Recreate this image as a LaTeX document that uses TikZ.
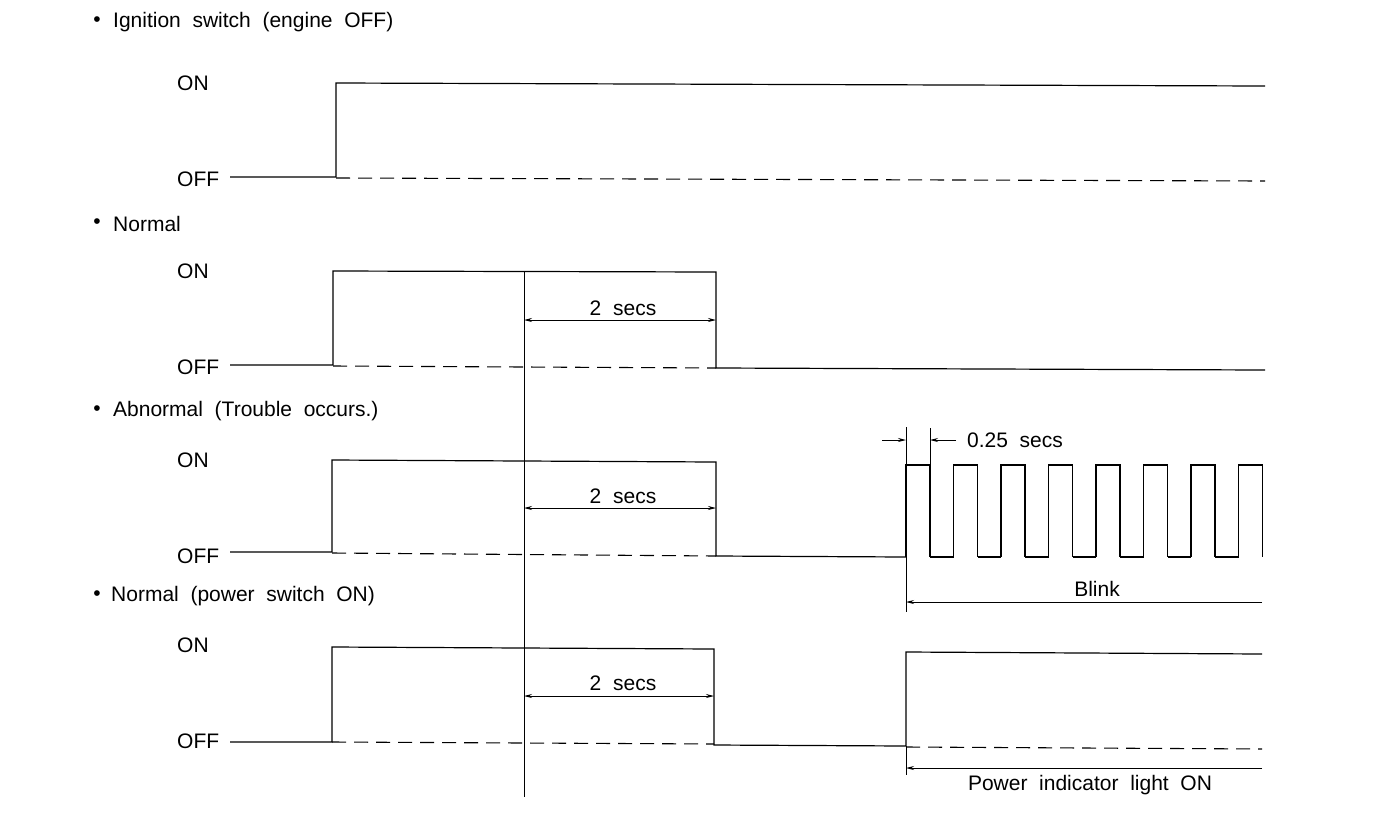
\documentclass[tikz,border=0pt]{standalone}
\usepackage{fontspec}
\setmainfont{Liberation Sans}[WordSpace=2.0]
\usetikzlibrary{arrows.meta}
\begin{document}
\begin{tikzpicture}[x=1pt,y=-1pt,
  sig/.style={line width=1.2pt, line join=miter},
  base/.style={line width=1.1pt, dash pattern=on 14pt off 8pt},
  extline/.style={line width=0.9pt},
  dimone/.style={line width=0.9pt,-{Stealth[length=8pt,width=4pt]}},
  dimboth/.style={line width=0.9pt,{Stealth[length=8pt,width=4pt]}-{Stealth[length=8pt,width=4pt]}},
  lbl/.style={font=\fontsize{21}{23}\selectfont, anchor=west, inner sep=0pt},
  txt/.style={font=\fontsize{21}{23}\selectfont, inner sep=0pt}]
\useasboundingbox (0,0) rectangle (1392,812);

% titles
\node[txt] (b1) at (97,22) {•};
\node[lbl] (t1) at (113,22) {Ignition switch (engine OFF)};
\node[txt] (b2) at (97,224) {•};
\node[lbl] (t2) at (113,224) {Normal};
\node[txt] (b3) at (97,411) {•};
\node[lbl] (t3) at (113,411) {Abnormal (Trouble occurs.)};
\node[txt] (b4) at (97,596) {•};
\node[lbl] (t4) at (111,596) {Normal (power switch ON)};

% level labels
\node[lbl] (on1) at (177,83) {ON};
\node[lbl] (off1) at (177,179) {OFF};
\node[lbl] (on2) at (177,271) {ON};
\node[lbl] (off2) at (177,367) {OFF};
\node[lbl] (on3) at (177,460) {ON};
\node[lbl] (off3) at (177,556) {OFF};
\node[lbl] (on4) at (177,645) {ON};
\node[lbl] (off4) at (177,741) {OFF};

% panel 1
\draw[sig] (230,177) -- (336,177) -- (336,83) -- (1265,86);
\draw[base] (336,178) -- (1265,181);

% panel 2
\draw[sig] (230,365) -- (333,365) -- (333,271) -- (716,272) -- (716,368) -- (1265,370);
\draw[base] (333,366) -- (716,368);

% reference vertical line
\coordinate (r1) at (524,272);
\coordinate (r2) at (524,797);
\draw[extline] (r1) -- (r2);

\coordinate (d2a) at (524,320);
\coordinate (d2b) at (716,320);
\draw[dimboth] (d2a) -- (d2b);
\node[txt] (s2) at (623,308) {2 secs};

% panel 3
\draw[sig] (230,552) -- (332,552) -- (332,460) -- (716,462) -- (716,556) -- (906,557);
\draw[base] (332,553) -- (716,556);
\coordinate (d3a) at (524,508);
\coordinate (d3b) at (716,508);
\draw[dimboth] (d3a) -- (d3b);
\node[txt] (s3) at (623,496) {2 secs};

\foreach \k in {0,...,7}{
  \draw[sig] ({906+47.5*\k},557) -- ({906+47.5*\k},465) -- ({930+47.5*\k},465) -- ({930+47.5*\k},557);
}
\foreach \k in {0,...,6}{
  \draw[sig] ({930+47.5*\k},557) -- ({953.5+47.5*\k},557);
}
\coordinate (e1a) at (906,427);
\coordinate (e1b) at (906,612);
\coordinate (e2a) at (930,428);
\coordinate (e2b) at (930,465);
\draw[extline] (e1a) -- (e1b);
\draw[extline] (e2a) -- (e2b);
\coordinate (q1) at (882,440);
\coordinate (q2) at (906,440);
\coordinate (q3) at (956,440);
\coordinate (q4) at (930,440);
\draw[dimone] (q1) -- (q2);
\draw[dimone] (q3) -- (q4);
\node[lbl] (s025) at (967,440) {0.25 secs};

\coordinate (bl1) at (1262,602);
\coordinate (bl2) at (906,602);
\draw[dimone] (bl1) -- (bl2);
\node[txt] (blink) at (1097,589) {Blink};

% panel 4
\draw[sig] (230,742) -- (332,742) -- (332,647) -- (714,649) -- (714,745) -- (906,746) -- (906,652) -- (1262,654);
\draw[base] (332,742) -- (714,744);
\draw[base] (906,747) -- (1262,749);
\coordinate (d4a) at (524,696);
\coordinate (d4b) at (714,696);
\draw[dimboth] (d4a) -- (d4b);
\node[txt] (s4) at (623,683) {2 secs};

\coordinate (p0a) at (906,746);
\coordinate (p0b) at (906,775);
\draw[extline] (p0a) -- (p0b);
\coordinate (p1) at (1262,768);
\coordinate (p2) at (906,768);
\draw[dimone] (p1) -- (p2);
\node[txt] (pil) at (1090,785) {Power indicator light ON};
\end{tikzpicture}
\end{document}
